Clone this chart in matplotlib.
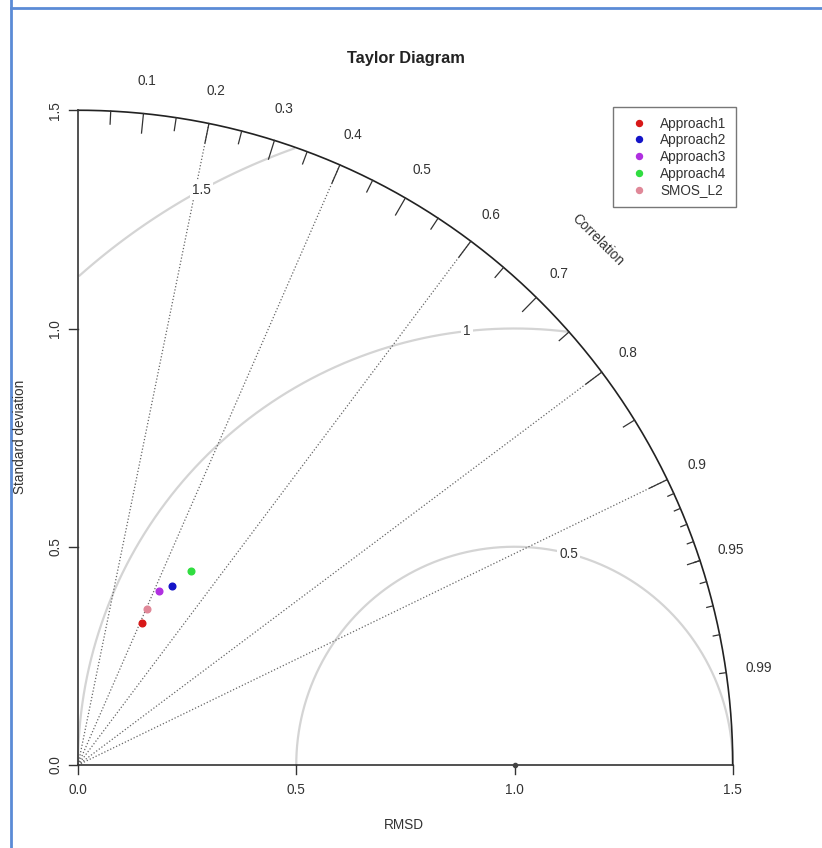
import numpy as np
import matplotlib.pyplot as plt

plt.rcParams['font.family'] = ['Liberation Sans', 'DejaVu Sans']

# data (standard deviation and correlation per model)
models = ['Approach1', 'Approach2', 'Approach3', 'Approach4', 'SMOS_L2']
model_sd = [0.357, 0.464, 0.440, 0.513, 0.392]
model_corr = [0.412, 0.465, 0.423, 0.503, 0.406]
model_colors = ['#d81818', '#1414c8', '#b030e0', '#30dd40', '#e08898']

ref_sd = 1.0
max_sd = 1.5
rmsd_levels = [0.5, 1.0, 1.5]
rmsd_labels = ['0.5', '1', '1.5']
corr_lines = [0.2, 0.4, 0.6, 0.8, 0.9]
corr_labels = [0.1, 0.2, 0.3, 0.4, 0.5, 0.6, 0.7, 0.8, 0.9, 0.95, 0.99]
axis_ticks = [0.0, 0.5, 1.0, 1.5]
axis_ticklabels = ['0.0', '0.5', '1.0', '1.5']

# figure: one axes over the whole canvas, 436.5 px per unit, origin at pixel (78, 765)
W, H = 822, 848
px = 436.5
ox, oy = 78, 765
fig = plt.figure(figsize=(W / 100, H / 100), dpi=100)
ax = fig.add_axes([0, 0, 1, 1])
ax.set_xlim(-ox / px, (W - ox) / px)
ax.set_ylim((oy - H) / px, oy / px)
ax.axis('off')

def P(x, y):
    # pixel position -> data position
    return (x - ox) / px, (oy - y) / px

ink = '#333333'
fs = 9.8

# screenshot frame (left and top edges only)
ax.plot([P(11, 0)[0], P(11, H)[0]], [P(11, 0)[1], P(11, H)[1]], color='#5b8bd6', lw=2)
ax.plot([P(11, 8)[0], P(W, 8)[0]], [P(11, 8)[1], P(W, 8)[1]], color='#5b8bd6', lw=2)

# RMSD arcs around the reference point
for g in rmsd_levels:
    t = np.linspace(0, np.pi, 600)
    xc = ref_sd + g * np.cos(t)
    yc = g * np.sin(t)
    keep = (xc >= 0) & (xc ** 2 + yc ** 2 <= max_sd ** 2 + 1e-9)
    ax.plot(xc[keep], yc[keep], color='#d4d4d4', lw=1.6, zorder=1)

for g, lab, idx in zip(rmsd_levels, rmsd_labels, [44, 56, 69]):
    a = idx * 0.03
    ax.text(ref_sd + g * np.cos(a), g * np.sin(a), lab, fontsize=fs, color=ink,
            ha='center', va='center', zorder=3,
            bbox=dict(facecolor='white', edgecolor='none', pad=1.5))

# correlation rays
for c in corr_lines:
    a = np.arccos(c)
    ax.plot([0, max_sd * np.cos(a)], [0, max_sd * np.sin(a)], color='#666666',
            lw=0.9, linestyle=(0, (1, 1.6)), zorder=2)

# outer arc
t = np.linspace(0, np.pi / 2, 400)
ax.plot(max_sd * np.cos(t), max_sd * np.sin(t), color='#222222', lw=1.2, zorder=2)

# ticks on the arc
big = np.arange(0.1, 0.91, 0.1)
med = np.arange(0.05, 0.96, 0.1)
sml = np.arange(0.91, 0.995, 0.01)
for cs, frac in [(big, 0.97), (med, 0.98), (sml, 0.99)]:
    for c in cs:
        a = np.arccos(c)
        ax.plot([max_sd * np.cos(a), frac * max_sd * np.cos(a)],
                [max_sd * np.sin(a), frac * max_sd * np.sin(a)], color='#333333', lw=0.9)

for c in corr_labels:
    a = np.arccos(c)
    ax.text(1.05 * max_sd * np.cos(a), 1.05 * max_sd * np.sin(a), str(c),
            fontsize=fs, color=ink, ha='center', va='center')
ax.text(*P(598, 240), 'Correlation', fontsize=fs, color=ink, ha='center', va='center',
        rotation=-45)

# axes lines with ticks
tk = 9 / px
ax.plot([0, max_sd], [0, 0], color='#333333', lw=1.2, zorder=2)
ax.plot([0, 0], [0, max_sd], color='#333333', lw=1.2, zorder=2)
for v, lab in zip(axis_ticks, axis_ticklabels):
    ax.plot([v, v], [0, -tk], color='#333333', lw=1.0)
    ax.plot([0, -tk], [v, v], color='#333333', lw=1.0)
    ax.text(v, -25 / px, lab, fontsize=fs, color=ink, ha='center', va='center')
    ax.text(-23 / px, v, lab, fontsize=fs, color=ink, ha='center', va='center', rotation=90)

# reference point
ax.plot([ref_sd], [0], marker='o', ms=3, color='#444444', zorder=4)

# model points
for name, s, c, col in zip(models, model_sd, model_corr, model_colors):
    a = np.arccos(c)
    ax.plot(s * np.cos(a), s * np.sin(a), 'o', ms=4.8, color=col, mec=col, label=name, zorder=5)

# labels and title
ax.text(*P(406, 58), 'Taylor Diagram', fontsize=11.8, fontweight='bold', color='#222222',
        ha='center', va='center')
ax.text(*P(404, 825), 'RMSD', fontsize=fs, color=ink, ha='center', va='center')
ax.text(*P(20, 437), 'Standard deviation', fontsize=fs, color=ink, ha='center', va='center',
        rotation=90)

leg = ax.legend(loc='upper left', bbox_to_anchor=(613 / W, 1 - 107 / H),
                bbox_transform=fig.transFigure, fontsize=fs, frameon=True, fancybox=False,
                edgecolor='#555555', handlelength=2.4, handletextpad=0.35, borderpad=0.7,
                labelspacing=0.2, borderaxespad=0, markerscale=0.9)
leg.get_frame().set_linewidth(1.0)
for t in leg.get_texts():
    t.set_color(ink)

fig.savefig('out.png', dpi=100)
